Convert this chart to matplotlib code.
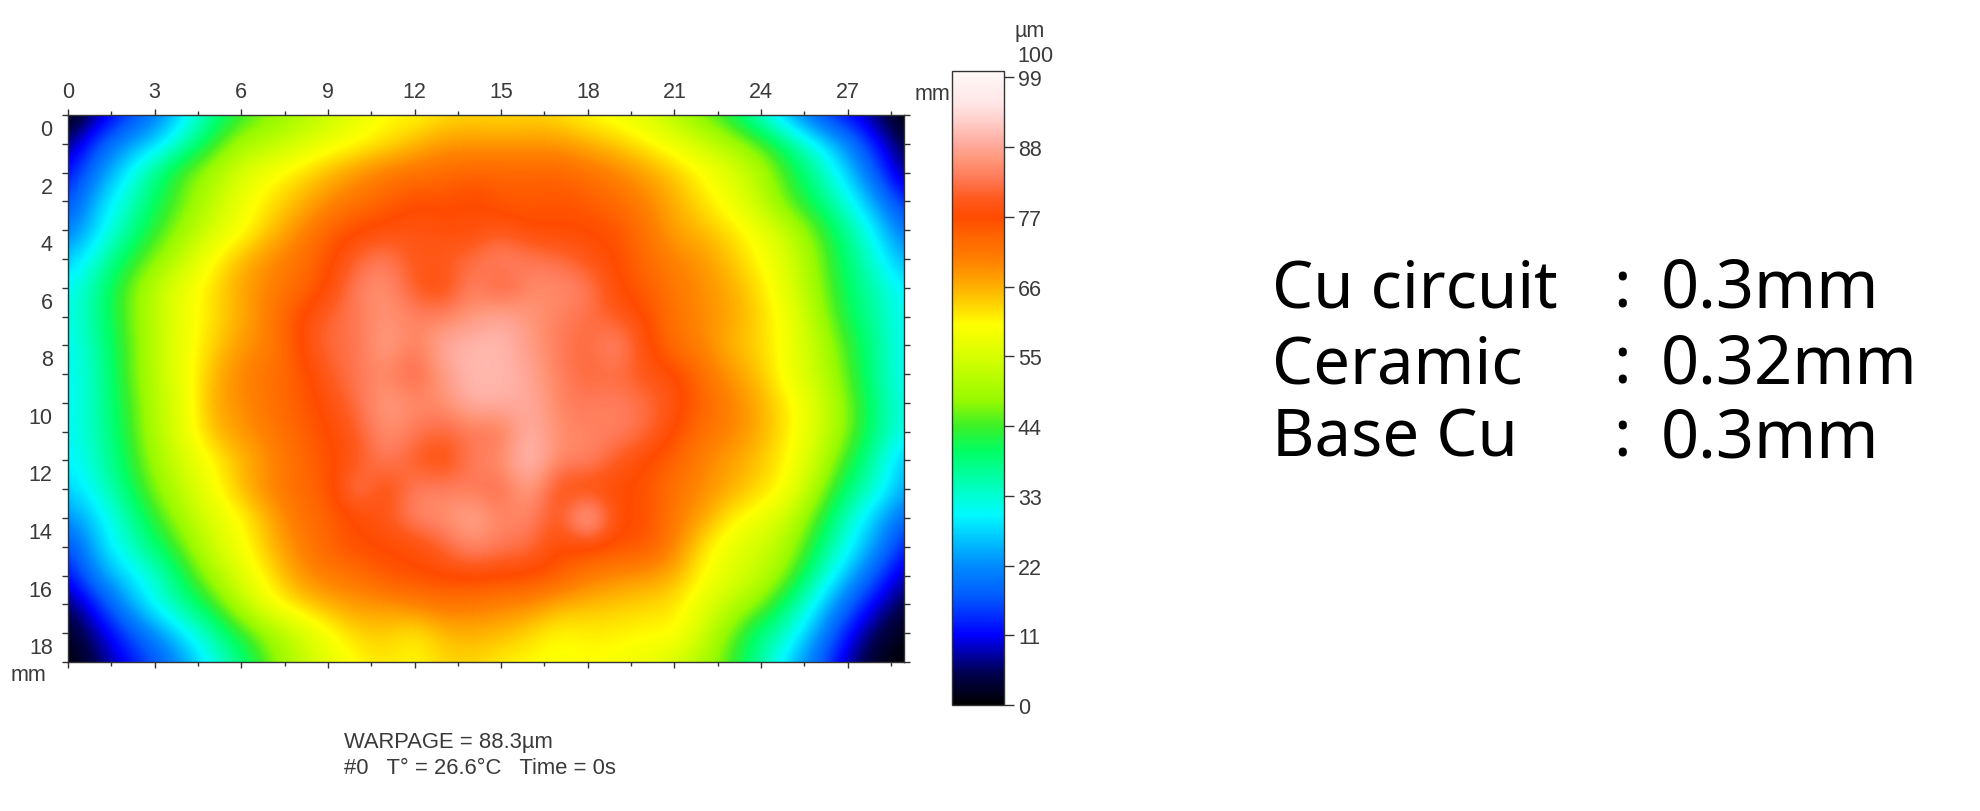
import numpy as np
import matplotlib
matplotlib.use("Agg")
import matplotlib.pyplot as plt
from matplotlib.colors import LinearSegmentedColormap, Normalize
from matplotlib.transforms import ScaledTranslation

warpage = [
 [0,7,14,20,28,37,43,47,50,53,57,60,60,62,63,62,63,62,60,58,56,51,46,41,33,24,16,11,6,0],
 [6,16,23,27,35,43,50,52,55,58,60,62,65,68,68,68,68,68,66,64,61,58,54,50,45,38,30,22,12,4],
 [11,21,29,38,45,50,55,59,62,65,68,71,72,73,74,74,74,74,72,70,67,64,60,56,51,43,36,27,17,6],
 [15,26,33,40,46,52,58,62,65,69,72,74,77,76,78,75,75,76,75,73,70,66,62,58,52,45,39,32,23,13],
 [20,28,36,43,49,55,59,64,69,74,77,78,79,78,77,80,77,77,77,76,72,67,65,62,58,52,45,37,29,19],
 [26,33,41,47,53,60,65,69,72,76,81,84,79,80,82,85,83,82,79,77,73,70,68,64,60,55,47,39,32,24],
 [30,37,45,52,58,62,67,70,73,77,84,86,80,77,85,79,85,85,84,77,75,71,69,66,62,56,48,40,35,29],
 [31,37,45,52,58,62,66,71,77,81,83,86,84,84,86,89,86,84,82,80,77,72,69,67,63,58,50,41,36,30],
 [30,36,44,52,58,63,68,70,77,82,82,88,83,89,90,90,87,83,81,86,78,72,70,65,63,58,52,44,37,30],
 [30,35,44,52,58,65,70,72,75,80,83,85,80,87,90,90,88,84,81,82,79,78,72,68,64,58,53,45,37,30],
 [30,35,43,51,57,66,69,72,75,78,82,87,85,85,90,89,89,84,83,84,82,79,74,70,66,61,55,47,38,31],
 [30,35,42,51,57,65,68,71,74,77,80,86,83,81,83,82,90,85,84,84,82,77,72,70,66,61,55,47,38,31],
 [29,34,41,49,55,60,65,69,73,76,79,84,80,77,84,85,92,84,85,80,77,74,70,67,64,60,53,43,35,25],
 [27,32,39,47,53,59,65,70,73,75,85,77,84,84,83,81,88,78,77,77,76,72,69,66,63,59,49,39,33,24],
 [22,28,35,43,50,56,60,66,72,74,77,79,85,85,89,84,85,78,93,77,77,71,67,61,58,53,44,34,26,18],
 [15,26,33,39,46,54,59,65,70,74,77,77,77,81,85,83,82,77,77,76,76,70,62,57,54,50,40,31,23,12],
 [11,22,28,33,41,50,56,62,68,71,72,76,77,77,78,77,77,75,71,69,68,66,60,56,53,46,35,26,16,8],
 [5,13,23,31,37,43,52,59,63,66,68,68,70,72,71,70,69,66,65,64,63,62,57,52,47,38,29,18,10,4],
 [2,8,15,22,29,36,43,49,54,59,63,64,61,65,66,65,63,60,61,61,60,61,54,46,38,33,23,12,5,1],
 [0,5,11,16,23,31,38,46,52,57,60,62,60,63,63,61,60,59,60,59,58,55,50,44,36,27,18,8,2,0],
]
x_major = [0,3,6,9,12,15,18,21,24,27]
y_major = [0,2,4,6,8,10,12,14,16,18]
cbar_ticks = [0,11,22,33,44,55,66,77,88,99]
spec_labels = ["Cu circuit","Ceramic","Base Cu"]
spec_values = ["0.3mm","0.32mm","0.3mm"]
stops = [(0,(0,0,0)),(5,(0,0,80)),(11,(0,0,255)),(17,(0,90,255)),(22,(0,140,255)),
         (30,(0,250,255)),(33,(0,255,210)),(40,(0,255,100)),(44,(60,240,40)),(48,(150,250,0)),
         (55,(215,255,0)),(60,(255,255,0)),(63,(255,215,0)),(66,(255,175,0)),(70,(255,130,0)),
         (74,(255,100,0)),(77,(255,75,0)),(80,(255,90,30)),(83,(255,120,85)),(86,(255,150,120)),
         (88,(255,165,150)),(92,(255,205,200)),(95,(255,230,230)),(100,(255,248,248))]
cmap = LinearSegmentedColormap.from_list("warp",[(v/100,tuple(c/255 for c in rgb)) for v,rgb in stops],N=512)

W,H = 1980,812
fig = plt.figure(figsize=(W/100,H/100),dpi=100,facecolor="white")
plt.rcParams["font.family"] = ["Liberation Sans","DejaVu Sans"]
TXT = "#3a3a3a"
FS = 15.5
def box(l,t,r,b): return [l/W,1-b/H,(r-l)/W,(b-t)/H]

ax = fig.add_axes(box(68,116,904,663))
norm = Normalize(0,100)
im = ax.imshow(np.array(warpage,float),cmap=cmap,norm=norm,interpolation="bicubic",
               extent=[-0.5,29.5,19.5,-0.5],aspect="auto")
ax.set_xlim(0,28.95); ax.set_ylim(18.95,0)
ax.set_xticks(x_major); ax.set_xticks([i+1.5 for i in x_major],minor=True)
ax.set_yticks(y_major); ax.set_yticks([i+1 for i in y_major],minor=True)
ax.tick_params(axis="x",which="both",top=True,bottom=True,labeltop=True,labelbottom=False,
               direction="out",color="#333333",width=1,labelcolor=TXT,labelsize=FS,length=4,pad=5)
ax.tick_params(axis="x",which="minor",length=3)
ax.tick_params(axis="y",which="both",left=True,right=True,direction="out",color="#333333",width=1,
               labelcolor=TXT,labelsize=FS,length=4,pad=7)
shift = ScaledTranslation(0,-4/100,fig.dpi_scale_trans)
for t in ax.get_yticklabels():
    t.set_va("top")
    t.set_transform(t.get_transform()+shift)
for s in ax.spines.values():
    s.set_color("#333333"); s.set_linewidth(1)
fig.text(932/W,1-95/H,"mm",ha="center",va="center",fontsize=FS,color=TXT)
fig.text(28/W,1-676/H,"mm",ha="center",va="center",fontsize=FS,color=TXT)

cax = fig.add_axes(box(952,72,1004,706))
cb = fig.colorbar(im,cax=cax,ticks=cbar_ticks)
cb.ax.tick_params(length=7,width=1,color="#333333",labelcolor=TXT,labelsize=FS,pad=3)
cb.outline.set_edgecolor("#333333"); cb.outline.set_linewidth(1)
fig.text(1017/W,1-57/H,"100",ha="left",va="center",fontsize=FS,color=TXT)
fig.text(1030/W,1-31/H,"µm",ha="center",va="center",fontsize=FS,color=TXT)

fig.text(344/W,1-743/H,"WARPAGE = 88.3µm",ha="left",va="center",fontsize=15.8,color=TXT)
fig.text(344/W,1-769/H,"#0   T° = 26.6°C   Time = 0s",ha="left",va="center",fontsize=15.8,color=TXT)

for lab,val,y in zip(spec_labels,spec_values,[290,366,440]):
    fig.text(1272/W,1-y/H,lab,ha="left",va="center",fontsize=47,color="black",family="Noto Sans")
    fig.text(1613/W,1-y/H,":",ha="left",va="center",fontsize=47,color="black",family="Noto Sans")
    fig.text(1661/W,1-y/H,val,ha="left",va="center",fontsize=48,color="black",family="Noto Sans")
fig.savefig("out.png",dpi=100)
